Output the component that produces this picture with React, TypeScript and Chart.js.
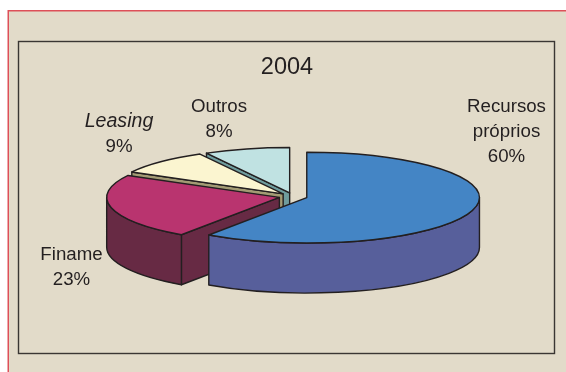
import React, { useEffect, useRef } from "react";
import { Chart, registerables } from "chart.js";

Chart.register(...registerables);

const categories = ["Recursos próprios", "Finame", "Leasing", "Outros"];
const shares = [59.6, 23.4, 9, 8];
const topColors = ["#4485c5", "#b9346f", "#fbf5d0", "#c0e2e2"];
const wallColors = ["#575f9b", "#672a44", "#a39b74", "#6f9c9d"];
const titleText = "2004";

// presentation constants
const TILT = 0.263;
const DEPTH = 50;
const EXPLODE = 14.2;
const EDGE = "#231f20";
const PAPER = "#e2dbc9";
const FONT = '"Liberation Sans", Arial, sans-serif';

const annotations = [
  { lines: ["Recursos", "próprios", "60%"], x: 506.5, y: 107, italicFirst: false },
  { lines: ["Finame", "23%"], x: 71.5, y: 255, italicFirst: false },
  { lines: ["Leasing", "9%"], x: 119, y: 122, italicFirst: true },
  { lines: ["Outros", "8%"], x: 219, y: 107, italicFirst: false },
];

const pie3d = {
  id: "pie3d",
  beforeDraw(chart: any) {
    const { ctx } = chart;
    ctx.save();
    ctx.fillStyle = PAPER;
    ctx.fillRect(8, 10, 558, 362);
    ctx.strokeStyle = "#dd5059";
    ctx.lineWidth = 1.5;
    ctx.beginPath();
    ctx.moveTo(8.25, 372);
    ctx.lineTo(8.25, 10.75);
    ctx.lineTo(566, 10.75);
    ctx.stroke();
    ctx.strokeStyle = "#3a3633";
    ctx.lineWidth = 1.4;
    ctx.strokeRect(18.5, 41.5, 536, 312);
    ctx.restore();
  },
  beforeDatasetsDraw(chart: any) {
    const { ctx } = chart;
    const arcs = chart.getDatasetMeta(0).data;
    const order = arcs.map((_: any, i: number) => i).reverse();
    ctx.save();
    ctx.lineJoin = "round";
    ctx.strokeStyle = EDGE;
    ctx.lineWidth = 1.4;
    for (const i of order) {
      const arc = arcs[i];
      const { x, y, startAngle, endAngle, outerRadius } = arc.getProps(
        ["x", "y", "startAngle", "endAngle", "outerRadius"],
        true
      );
      const mid = (startAngle + endAngle) / 2;
      const dx = Math.cos(mid) * EXPLODE;
      const dy = Math.sin(mid) * EXPLODE * TILT;
      const ax = x + dx;
      const ay = y + dy;
      const r = outerRadius;
      const px = (a: number) => ax + Math.cos(a) * r;
      const py = (a: number) => ay + Math.sin(a) * r * TILT;

      ctx.fillStyle = wallColors[i];
      // Only the cut faces that turn towards the viewer are drawn.
      const cuts = [
        { a: startAngle, facing: -Math.cos(startAngle) },
        { a: endAngle, facing: Math.cos(endAngle) },
      ];
      for (const { a, facing } of cuts) {
        if (facing <= 1e-6) continue;
        ctx.beginPath();
        ctx.moveTo(ax, ay);
        ctx.lineTo(px(a), py(a));
        ctx.lineTo(px(a), py(a) + DEPTH);
        ctx.lineTo(ax, ay + DEPTH);
        ctx.closePath();
        ctx.fill();
        ctx.stroke();
      }
      const from = Math.max(startAngle, 0);
      const to = Math.min(endAngle, Math.PI);
      if (to > from) {
        ctx.beginPath();
        ctx.ellipse(ax, ay, r, r * TILT, 0, from, to);
        ctx.lineTo(px(to), py(to) + DEPTH);
        ctx.ellipse(ax, ay + DEPTH, r, r * TILT, 0, to, from, true);
        ctx.closePath();
        ctx.fill();
        ctx.stroke();
      }

      ctx.save();
      ctx.translate(dx, y + dy);
      ctx.scale(1, TILT);
      ctx.translate(0, -y);
      arc.draw(ctx);
      ctx.restore();

      ctx.beginPath();
      ctx.moveTo(ax, ay);
      ctx.ellipse(ax, ay, r, r * TILT, 0, startAngle, endAngle);
      ctx.closePath();
      ctx.stroke();
    }
    ctx.restore();

    ctx.save();
    ctx.fillStyle = "#231f20";
    ctx.textAlign = "center";
    ctx.textBaseline = "middle";
    ctx.font = `23.5px ${FONT}`;
    ctx.fillText(titleText, 287, 68);
    for (const note of annotations) {
      note.lines.forEach((line, k) => {
        const italic = note.italicFirst && k === 0;
        ctx.font = `${italic ? "italic 19.6px" : "18.7px"} ${FONT}`;
        ctx.fillText(line, note.x, note.y + k * 25);
      });
    }
    ctx.restore();
    return false;
  },
};

export default function App() {
  const ref = useRef<HTMLCanvasElement>(null);
  useEffect(() => {
    const chart = new Chart(ref.current as HTMLCanvasElement, {
      type: "pie",
      data: {
        labels: categories,
        datasets: [
          {
            data: shares,
            backgroundColor: topColors,
            borderWidth: 0,
            clip: false,
          } as any,
        ],
      },
      options: {
        animation: false,
        responsive: false,
        radius: 172.7,
        layout: { padding: { left: 20.4, top: 21, right: 0, bottom: 0 } },
        plugins: {
          legend: { display: false },
          tooltip: { enabled: false },
          title: { display: false },
        },
      } as any,
      plugins: [pie3d],
    });
    return () => chart.destroy();
  }, []);
  return (
    <div style={{ position: "absolute", left: 0, top: 0, width: 566, height: 372 }}>
      <canvas ref={ref} width={566} height={372} style={{ display: "block" }} />
    </div>
  );
}
